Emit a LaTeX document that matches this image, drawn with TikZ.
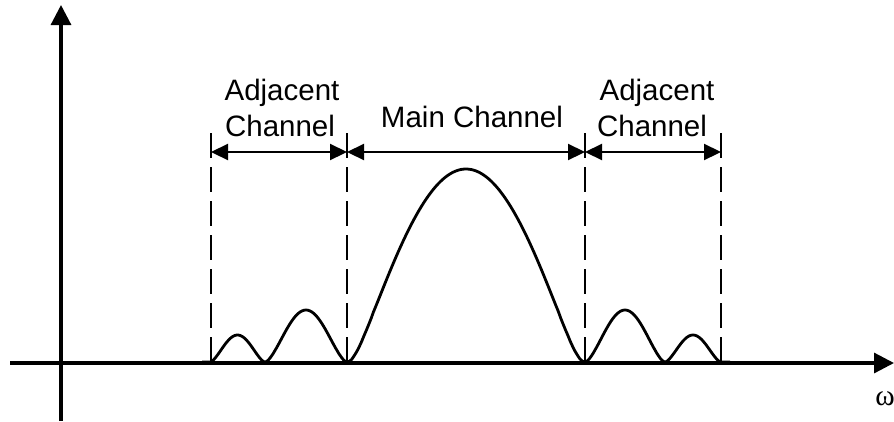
\documentclass[tikz,border=0pt]{standalone}
\usepackage{fontspec}
\setmainfont{Liberation Sans}
\newfontfamily\serifw{Liberation Serif}
\usetikzlibrary{arrows.meta}
\begin{document}
\begin{tikzpicture}[x=1pt,y=-1pt,
  declare function={lobe(\t,\p,\e)=((sin(180*\t)^2+\e)^(\p/2)-\e^(\p/2))/((1+\e)^(\p/2)-\e^(\p/2));},
  axisline/.style={line width=3.2pt,-{Triangle[length=20pt,width=20pt]}},
  curve/.style={line width=2.8pt,line join=round},
  guide/.style={line width=2.6pt,dash pattern=on 25pt off 9pt},
  dimline/.style={line width=2.2pt,{Triangle[length=17pt,width=16pt]}-{Triangle[length=17pt,width=16pt]}},
  lbl/.style={font=\fontsize{29.5}{34}\selectfont,anchor=base,inner sep=0pt}]
\useasboundingbox (0,0) rectangle (894,421);
% axes
\coordinate (ybot) at (61,421);
\coordinate (ytop) at (61,5);
\coordinate (xleft) at (10,363);
\coordinate (xright) at (894,363);
\draw[axisline] (ybot) -- (ytop);
\draw[axisline] (xleft) -- (xright);
\node[font=\serifw\fontsize{29.5}{34}\selectfont,anchor=base,inner sep=0pt] (omega) at (885,405) {ω};
% guide lines
\foreach \n/\x in {a/211,b/347,c/585,d/721}{
  \coordinate (\n top) at (\x,133);
  \coordinate (\n bot) at (\x,362);
  \coordinate (\n dim) at (\x,152);
  \draw[guide] (\n top) -- (\n bot);
}
% dimension arrows
\draw[dimline] (adim) -- (bdim);
\draw[dimline] (bdim) -- (cdim);
\draw[dimline] (cdim) -- (ddim);
% labels
\node[lbl] (adj1a) at (282,100) {Adjacent};
\node[lbl] (adj1b) at (280,136) {Channel};
\node[lbl] (main) at (472,127) {Main Channel};
\node[lbl] (adj2a) at (657,100) {Adjacent};
\node[lbl] (adj2b) at (652,136) {Channel};
% spectrum
\draw[curve] (202,362) -- (210,362)
  -- plot[domain=0:1,samples=40] ({210+55*\x},{362-27*lobe(\x,1.5,0.004)})
  -- plot[domain=0:1,samples=50] ({265+82*\x},{362-52*lobe(\x,1.5,0.004)})
  -- plot[domain=0:1,samples=100] ({347+238*\x},{362-193*lobe(\x,1,0.025)})
  -- plot[domain=0:1,samples=50] ({585+80*\x},{362-52*lobe(\x,1.5,0.004)})
  -- plot[domain=0:1,samples=40] ({665+56*\x},{362-27*lobe(\x,1.5,0.004)})
  -- (730,362);
\end{tikzpicture}
\end{document}
